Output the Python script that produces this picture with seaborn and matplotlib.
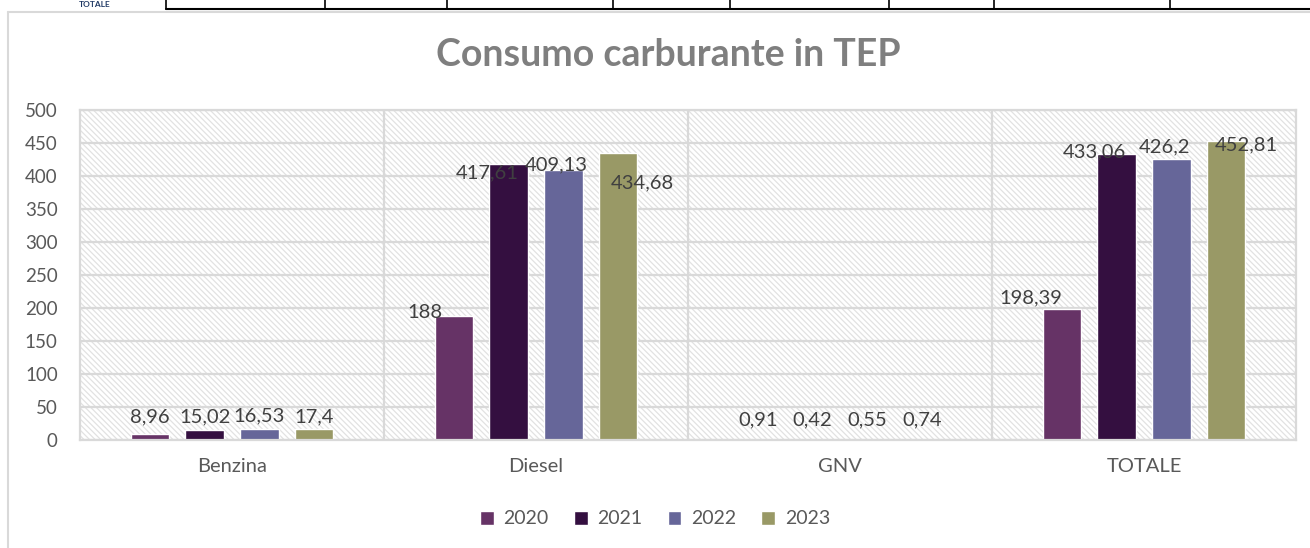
import matplotlib
matplotlib.use("Agg")
import matplotlib.pyplot as plt
from matplotlib.lines import Line2D
from matplotlib.patches import Rectangle
import pandas as pd
import seaborn as sns

# ── data ──
categories = ["Benzina", "Diesel", "GNV", "TOTALE"]
years = ["2020", "2021", "2022", "2023"]
v2020 = [8.96, 188, 0.91, 198.39]
v2021 = [15.02, 417.61, 0.42, 433.06]
v2022 = [16.53, 409.13, 0.55, 426.2]
v2023 = [17.4, 434.68, 0.74, 452.81]
yticks = list(range(0, 501, 50))

colors = ["#663366", "#340f40", "#666699", "#999966"]

df = pd.DataFrame({
    "cat": categories * 4,
    "year": [y for y in years for _ in categories],
    "val": v2020 + v2021 + v2022 + v2023,
})

# label offsets (pixels, dx right / dy up from bar-top centre) to mimic Excel placement
label_off = [
    [(0, 17), (-29, 3), (0, 20), (-31, 11)],
    [(0, 13), (-21, -8), (0, 20), (-22, 2)],
    [(0, 13), (-7, 5), (0, 20), (-7, 12)],
    [(0, 12), (24, -30), (0, 20), (20, -4)],
]

sns.set_style("white")
plt.rcParams["font.family"] = ["Lato", "DejaVu Sans"]
plt.rcParams["hatch.linewidth"] = 0.9
W, H = 1310, 548
fig = plt.figure(figsize=(W / 100, H / 100), dpi=100)
ax = fig.add_axes([80 / W, 1 - 440 / H, (1296 - 80) / W, 330 / H])

grid_c = "#d9d9d9"
txt_c = "#595959"

# hatched plot background
ax.add_patch(Rectangle((0, 0), 1, 1, transform=ax.transAxes, facecolor="white",
                       edgecolor="#e2e2e2", hatch="\\" * 6, lw=0, zorder=0.1))

sns.barplot(data=df, x="cat", y="val", hue="year", palette=colors,
            width=0.72, gap=0.3, ax=ax, errorbar=None, saturation=1, zorder=2)

ax.set_ylim(0, 500)
ax.set_xlim(-0.5, 3.5)
ax.set_yticks(yticks)
ax.set_yticklabels([str(t) for t in yticks])
ax.set_axisbelow(True)
ax.yaxis.grid(True, color=grid_c, lw=1.6)
for xb in [0.5, 1.5, 2.5]:
    ax.axvline(xb, color=grid_c, lw=1.6, zorder=0.5)
for s in ax.spines.values():
    s.set_color(grid_c)
    s.set_linewidth(1.6)
ax.tick_params(axis="y", length=0, pad=16, labelsize=13.5, labelcolor=txt_c)
ax.tick_params(axis="x", length=0, pad=13, labelsize=14.5, labelcolor=txt_c)
ax.set_xlabel("")
ax.set_ylabel("")

# data labels
for i, cont in enumerate(ax.containers):
    for j, bar in enumerate(cont):
        v = bar.get_height()
        dx, dy = label_off[i][j]
        ax.annotate(f"{v:g}".replace(".", ","),
                    (bar.get_x() + bar.get_width() / 2, v),
                    xytext=(dx * 0.72, dy * 0.72), textcoords="offset points",
                    ha="center", va="center", fontsize=14.5, color="#404040",
                    zorder=3)

sns.move_legend(ax, "center", bbox_to_anchor=(0.5, 1 - 519 / H),
                bbox_transform=fig.transFigure, ncol=4, frameon=False, title=None,
                fontsize=14, handlelength=0.7, handleheight=0.7,
                handletextpad=0.5, columnspacing=1.3)
for t in ax.get_legend().get_texts():
    t.set_color(txt_c)

fig.suptitle("Consumo carburante in TEP", x=0.51, y=1 - 55 / H, va="center",
             fontsize=27, fontweight="bold", color="#7f7f7f")

# chart frame
fig.add_artist(Line2D([8 / W, 8 / W], [0, 1 - 12 / H], color=grid_c, lw=1.5))
fig.add_artist(Line2D([8 / W, 1], [1 - 12 / H, 1 - 12 / H], color=grid_c, lw=1.5))

# fragment of the table above the chart
fig.add_artist(Line2D([166 / W, 1], [1 - 9 / H, 1 - 9 / H], color="black", lw=1.5))
for xc in [166, 325, 447, 613, 730, 889, 994, 1170]:
    fig.add_artist(Line2D([xc / W, xc / W], [1 - 9 / H, 1], color="black", lw=1.2))
fig.text(95 / W, 1 - 4.5 / H, "TOTALE", ha="center", va="center", fontsize=6,
         fontweight="bold", color="#1f3864")

fig.savefig("out.png", dpi=100)
